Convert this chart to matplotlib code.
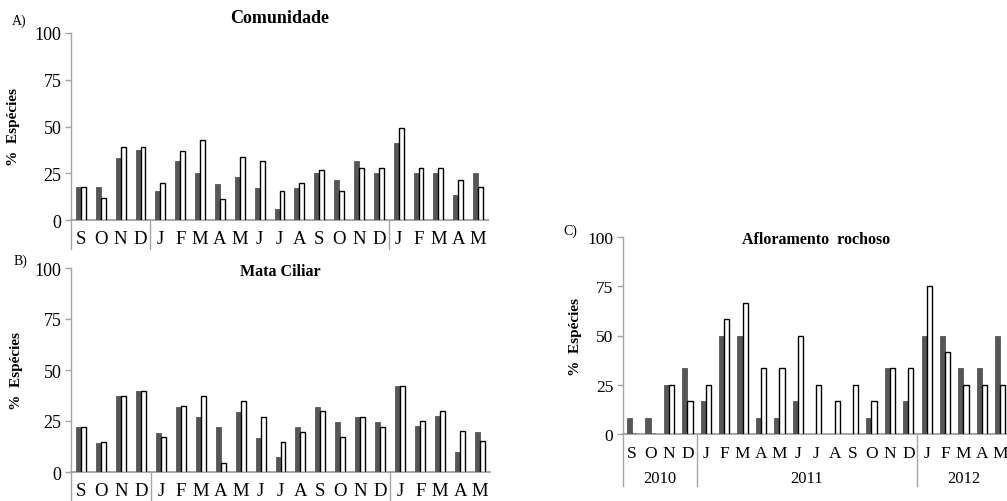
import matplotlib
matplotlib.use('Agg')
import matplotlib.pyplot as plt
import matplotlib.transforms as mtransforms
import numpy as np

plt.rcParams.update({
    'font.family': ['Liberation Serif', 'DejaVu Serif'],
    'axes.unicode_minus': False,
})

# ── data ──────────────────────────────────────────────────────
months = ['S', 'O', 'N', 'D', 'J', 'F', 'M', 'A', 'M', 'J', 'J',
          'A', 'S', 'O', 'N', 'D', 'J', 'F', 'M', 'A', 'M']
years = ['2010', '2011', '2012']
year_spans = [4, 12, 5]

comunidade_dark = [17.4, 17.4, 32.9, 37.4, 15.7, 31.3, 25.1, 19.4, 23.0, 17.3, 5.7,
                   17.3, 25.1, 21.4, 31.3, 25.1, 41.0, 25.1, 25.1, 13.5, 25.1]
comunidade_white = [17.6, 11.9, 39.1, 39.1, 19.9, 37.0, 42.9, 11.4, 33.5, 31.3, 15.7,
                    19.9, 27.0, 15.7, 27.6, 27.6, 49.0, 27.6, 27.6, 21.4, 17.4]

mata_dark = [22.1, 14.4, 37.2, 39.5, 19.3, 32.0, 27.0, 22.1, 29.5, 16.9, 7.2,
             22.1, 32.0, 24.6, 27.0, 24.6, 42.1, 22.4, 27.3, 9.8, 19.5]
mata_white = [22.1, 14.9, 37.2, 39.5, 17.4, 32.3, 37.2, 4.6, 34.6, 27.0, 14.9,
              19.7, 29.7, 17.4, 27.0, 22.1, 42.1, 24.9, 30.1, 20.0, 15.0]

aflor_dark = [8.3, 8.3, 25.0, 33.3, 16.7, 50.0, 50.0, 8.3, 8.3, 16.7, 0.0,
              0.0, 0.0, 8.3, 33.3, 16.7, 50.0, 50.0, 33.3, 33.3, 50.0]
aflor_white = [0.0, 0.0, 25.0, 16.7, 25.0, 58.3, 66.7, 33.3, 33.3, 50.0, 25.0,
               16.7, 25.0, 16.7, 33.3, 33.3, 75.0, 41.7, 25.0, 25.0, 25.0]

# ── style ─────────────────────────────────────────────────────
W, H = 1007, 502
C_DARK = '#575757'
C_AXIS = '#A6A6A6'

fig = plt.figure(figsize=(W / 100, H / 100), dpi=100)


def px_axes(left, right, top, bottom):
    return fig.add_axes([left / W, 1 - bottom / H, (right - left) / W, (bottom - top) / H])


def draw_panel(ax, dark, white, title, title_dy, title_fs, bw, sep_len,
               show_years, ylab_dx, tick_fs, month_fs):
    x = np.arange(len(months))
    ax.bar(x - bw / 2, dark, width=bw, color=C_DARK, edgecolor='#454545', linewidth=0.5, zorder=3)
    ax.bar(x + bw / 2, white, width=bw, color='white', edgecolor='black', linewidth=1.0, zorder=3)
    ax.set_xlim(-0.5, len(months) - 0.5)
    ax.set_ylim(0, 100)
    ax.set_yticks([0, 25, 50, 75, 100])
    ax.set_xticks([])
    for s in ['top', 'right']:
        ax.spines[s].set_visible(False)
    ax.spines['left'].set_color(C_AXIS)
    ax.spines['bottom'].set_color(C_AXIS)
    ax.spines['left'].set_linewidth(1.0)
    ax.spines['bottom'].set_linewidth(1.4)
    ax.tick_params(axis='y', length=4, width=1.0, color=C_AXIS, labelsize=tick_fs, pad=3)

    # category rows below the axis (px offsets -> points)
    def off(dy_px):
        return mtransforms.offset_copy(ax.get_xaxis_transform(), fig=fig,
                                       x=0, y=-dy_px * 0.72, units='points')

    for i, m in enumerate(months):
        ax.text(i, 0, m, transform=off(19), ha='center', va='center', fontsize=month_fs)

    bounds = np.cumsum(year_spans)[:-1] - 0.5
    for b in [-0.5] + list(bounds):
        y1 = -sep_len / (ax.get_position().height * H)
        ax.plot([b, b], [0, y1], transform=ax.get_xaxis_transform(),
                color=C_AXIS, linewidth=1.0, clip_on=False)

    if show_years:
        start = 0
        for yr, span in zip(years, year_spans):
            ax.text(start + span / 2 - 0.5, 0, yr, transform=off(44),
                    ha='center', va='center', fontsize=12)
            start += span

    ax.text(0.5, 1 - title_dy / (ax.get_position().height * H), title,
            transform=ax.transAxes, ha='center', va='center',
            fontsize=title_fs, fontweight='bold')
    ax.set_ylabel('%  Espécies', fontsize=11, fontweight='bold')
    ax.yaxis.set_label_coords(-ylab_dx / (ax.get_position().width * W), 0.5)


# ── panels ────────────────────────────────────────────────────
axA = px_axes(71, 488, 34, 221)
draw_panel(axA, comunidade_dark, comunidade_white, 'Comunidade', -15, 13,
           0.25, 29, False, 51, 13, 13.5)

axB = px_axes(71, 490, 269, 473)
draw_panel(axB, mata_dark, mata_white, 'Mata Ciliar', 3, 11.5,
           0.25, 29, False, 48, 13, 13.5)

axC = px_axes(623, 1009.5, 238, 435)
draw_panel(axC, aflor_dark, aflor_white, 'Afloramento  rochoso', 2, 11.5,
           0.28, 52, True, 41, 12.5, 12.5)

fig.text(19 / W, 1 - 21 / H, 'A)', fontsize=10, ha='center', va='center')
fig.text(20 / W, 1 - 261 / H, 'B)', fontsize=10, ha='center', va='center')
fig.text(570 / W, 1 - 231 / H, 'C)', fontsize=10, ha='center', va='center')

fig.savefig('out.png', dpi=100, facecolor='white')
plt.close(fig)
